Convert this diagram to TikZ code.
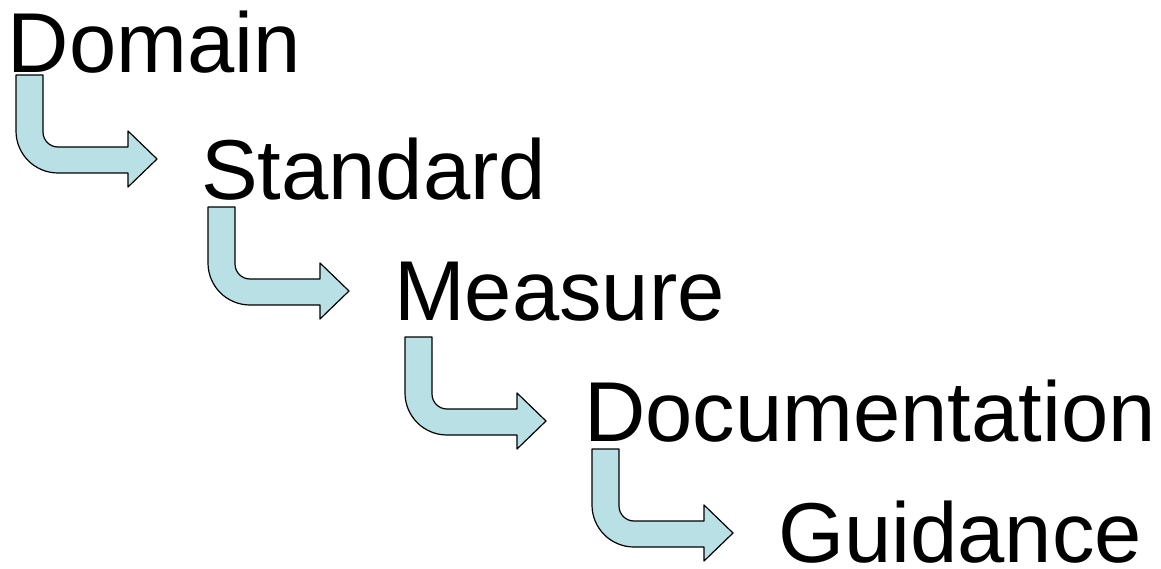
\documentclass[tikz,border=0pt]{standalone}
\usepackage{fontspec}
\setmainfont{Liberation Sans}
\definecolor{arrowfill}{RGB}{185,224,228}
\tikzset{
  word/.style={anchor=base west, inner sep=0pt, outer sep=0pt,
    font=\fontsize{85}{100}\selectfont},
  bentarrow/.pic={
    \draw[fill=arrowfill, draw=black, line width=1.2pt, line join=round]
      (0,0) -- (27,0) -- (27,-57) arc[start angle=180, end angle=270, radius=15]
      -- (112,-72) -- (112,-56) -- (141,-84) -- (112,-112) -- (112,-98)
      -- (42,-98) arc[start angle=270, end angle=180, radius=42] -- cycle;
  }
}
\begin{document}
\begin{tikzpicture}[x=1pt, y=1pt]
  \useasboundingbox (0,0) rectangle (1161,-569);
  % step-down arrows, drawn first so the words sit on top
  \pic at (16,-75) {bentarrow};
  \pic at (208,-207) {bentarrow};
  \pic at (405,-337) {bentarrow};
  \pic at (592,-449) {bentarrow};
  % the five levels
  \node[word] (domain) at (8,-73) {Domain};
  \node[word] (standard) at (201,-200) {Standard};
  \node[word] (measure) at (394,-320) {Measure};
  \node[word] (documentation) at (584,-441) {Documentation};
  \node[word] (guidance) at (778,-562) {Guidance};
\end{tikzpicture}
\end{document}
